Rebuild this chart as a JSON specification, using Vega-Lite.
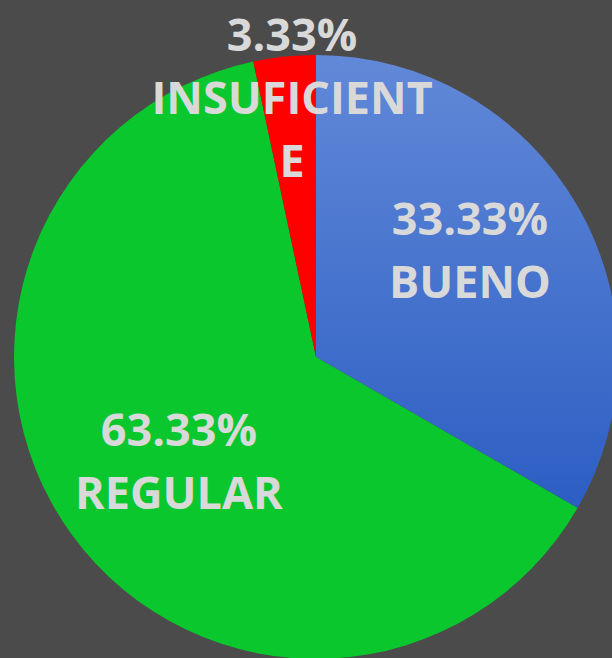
{
  "$schema": "https://vega.github.io/schema/vega-lite/v6.json",
  "width": 632,
  "height": 714,
  "padding": 0,
  "autosize": {"type": "none"},
  "background": "#4b4b4b",
  "view": {"stroke": null},
  "data": {
    "values": [
      {"categoria": "BUENO", "porcentaje": 33.33, "orden": 1, "etiqueta": "33.33%\nBUENO"},
      {"categoria": "REGULAR", "porcentaje": 63.33, "orden": 2, "etiqueta": "63.33%\nREGULAR"},
      {"categoria": "INSUFICIENTE", "porcentaje": 3.33, "orden": 3, "etiqueta": "3.33%\nINSUFICIENT\nE"}
    ]
  },
  "encoding": {
    "theta": {"field": "porcentaje", "type": "quantitative", "stack": true},
    "order": {"field": "orden", "type": "quantitative"}
  },
  "layer": [
    {
      "mark": {"type": "arc", "outerRadius": 302, "strokeWidth": 0},
      "encoding": {
        "color": {
          "condition": {
            "test": "datum.categoria === 'BUENO'",
            "value": {
              "gradient": "linear",
              "x1": 0, "y1": 0, "x2": 0, "y2": 1,
              "stops": [
                {"offset": 0, "color": "#6289d8"},
                {"offset": 1, "color": "#2c5ec3"}
              ]
            }
          },
          "field": "categoria",
          "type": "nominal",
          "scale": {"domain": ["BUENO", "REGULAR", "INSUFICIENTE"], "range": ["#4472c4", "#0ac72d", "#ff0000"]},
          "legend": null
        }
      }
    },
    {
      "mark": {"type": "text", "radius": 187, "dx": -8, "dy": -43, "font": "Open Sans", "fontWeight": "bold", "fontSize": 45, "color": "#d9d9d9", "lineBreak": "\n", "lineHeight": 63, "align": "center", "baseline": "middle"},
      "encoding": {
        "text": {"condition": {"test": "datum.categoria === 'BUENO'", "field": "etiqueta"}, "value": ""}
      }
    },
    {
      "mark": {"type": "text", "radius": 172, "dx": 2, "dy": -26, "font": "Open Sans", "fontWeight": "bold", "fontSize": 45, "color": "#d9d9d9", "lineBreak": "\n", "lineHeight": 63, "align": "center", "baseline": "middle"},
      "encoding": {
        "text": {"condition": {"test": "datum.categoria === 'REGULAR'", "field": "etiqueta"}, "value": ""}
      }
    },
    {
      "mark": {"type": "text", "radius": 258, "dx": 3, "dy": -63, "font": "Open Sans", "fontWeight": "bold", "fontSize": 45, "color": "#d9d9d9", "lineBreak": "\n", "lineHeight": 63, "align": "center", "baseline": "middle"},
      "encoding": {
        "text": {"condition": {"test": "datum.categoria === 'INSUFICIENTE'", "field": "etiqueta"}, "value": ""}
      }
    }
  ]
}
